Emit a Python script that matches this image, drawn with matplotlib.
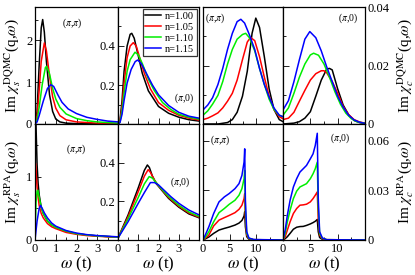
import matplotlib
matplotlib.use("Agg")
import matplotlib.pyplot as plt
from matplotlib.ticker import MultipleLocator, NullFormatter

plt.rcParams["font.family"] = ["Liberation Serif", "DejaVu Serif"]
plt.rcParams["mathtext.fontset"] = "stix"

labels = ["n=1.00", "n=1.05", "n=1.10", "n=1.15"]
colors = ["#000000", "#ff0000", "#00ee00", "#0000ff"]

# --- DQMC spin, (pi,pi)
s_pp_x = [
    [0, 0.1, 0.2, 0.3, 0.37, 0.45, 0.55, 0.7, 0.85, 1.0, 1.2, 1.5, 2, 4],
    [0, 0.1, 0.2, 0.3, 0.45, 0.55, 0.7, 0.85, 1.0, 1.2, 1.5, 2, 3, 4],
    [0, 0.1, 0.2, 0.35, 0.5, 0.56, 0.7, 0.85, 1.0, 1.2, 1.5, 2, 2.5, 3, 4],
    [0, 0.1, 0.2, 0.4, 0.6, 0.76, 0.9, 1.1, 1.3, 1.6, 2.0, 2.5, 3, 3.5, 4],
]
s_pp_y = [
    [0, 0.3, 1.4, 2.3, 2.5, 2.2, 1.5, 0.7, 0.3, 0.12, 0.05, 0.02, 0.01, 0],
    [0, 0.2, 0.8, 1.5, 1.94, 1.75, 1.15, 0.65, 0.38, 0.2, 0.1, 0.05, 0.02, 0.01],
    [0, 0.1, 0.4, 0.95, 1.35, 1.38, 1.2, 0.85, 0.6, 0.4, 0.24, 0.13, 0.08, 0.05, 0.02],
    [0, 0.05, 0.2, 0.55, 0.85, 0.94, 0.9, 0.7, 0.52, 0.36, 0.25, 0.16, 0.11, 0.07, 0.05],
]

# --- DQMC spin, (pi,0)
s_p0_x = [
    [0, 0.1, 0.2, 0.3, 0.45, 0.6, 0.68, 0.8, 1.0, 1.2, 1.5, 2.0, 2.5, 3, 3.5, 4],
    [0, 0.1, 0.2, 0.3, 0.45, 0.6, 0.755, 0.9, 1.1, 1.3, 1.6, 2.0, 2.5, 3, 3.5, 4],
    [0, 0.1, 0.2, 0.3, 0.45, 0.6, 0.84, 1.0, 1.2, 1.5, 1.8, 2.2, 2.6, 3, 3.5, 4],
    [0, 0.1, 0.2, 0.3, 0.45, 0.65, 0.85, 0.97, 1.15, 1.4, 1.7, 2.0, 2.5, 3, 3.5, 4],
]
s_p0_y = [
    [0, 0.02, 0.12, 0.27, 0.40, 0.46, 0.465, 0.44, 0.35, 0.26, 0.17, 0.09, 0.055, 0.035, 0.022, 0.015],
    [0, 0.015, 0.09, 0.21, 0.34, 0.40, 0.417, 0.40, 0.33, 0.26, 0.18, 0.11, 0.07, 0.045, 0.03, 0.02],
    [0, 0.01, 0.07, 0.16, 0.27, 0.33, 0.368, 0.355, 0.31, 0.23, 0.17, 0.11, 0.075, 0.05, 0.035, 0.025],
    [0, 0.008, 0.05, 0.12, 0.21, 0.28, 0.32, 0.328, 0.31, 0.26, 0.2, 0.15, 0.095, 0.06, 0.04, 0.03],
]

# --- DQMC charge, (pi,pi)
c_pp_x = [
    [0, 2.8, 4.6, 5.5, 6.4, 7.4, 8.3, 9.2, 9.9, 10.6, 11.5, 12.4, 13.3, 14.3, 15],
    [0, 0.9, 1.8, 2.8, 3.7, 4.6, 5.5, 6.4, 7.4, 8.3, 8.9, 9.7, 10.6, 11.5, 12.4, 13.3, 14.3, 15],
    [0, 0.9, 1.8, 2.8, 3.7, 4.6, 5.5, 6.4, 7.4, 8.0, 8.7, 9.7, 10.6, 11.5, 12.4, 13.3, 14.3, 15],
    [0, 0.9, 1.8, 2.8, 3.7, 4.6, 5.5, 6.4, 7.1, 7.8, 8.7, 9.7, 10.6, 11.5, 12.4, 13.3, 14.3, 15],
]
c_pp_y = [
    [0, 0, 0.0005, 0.0015, 0.004, 0.0095, 0.018, 0.031, 0.0362, 0.033, 0.023, 0.012, 0.005, 0.0015, 0.0008],
    [0.0015, 0.002, 0.0028, 0.0038, 0.0055, 0.0078, 0.0105, 0.015, 0.022, 0.028, 0.0296, 0.0285, 0.023,
     0.016, 0.0095, 0.005, 0.0025, 0.0018],
    [0.003, 0.0045, 0.0068, 0.0098, 0.0145, 0.0205, 0.0255, 0.029, 0.0306, 0.031, 0.0295, 0.025, 0.019,
     0.0135, 0.0085, 0.005, 0.003, 0.0025],
    [0.0048, 0.0065, 0.009, 0.0135, 0.019, 0.0255, 0.031, 0.035, 0.0358, 0.0345, 0.0305, 0.0255, 0.019,
     0.0135, 0.0092, 0.0055, 0.003, 0.0025],
]

# --- DQMC charge, (pi,0)
c_p0_x = [
    [0, 2, 3, 4, 5, 6, 7, 8, 8.5, 9, 10, 11, 12, 13, 14, 15],
    [0, 1, 2, 3, 4, 5, 6, 7, 7.5, 8, 9, 10, 11, 12, 13, 14, 15],
    [0, 1, 2, 3, 4, 5, 5.6, 6.5, 7.5, 8.5, 9.5, 10.5, 11.5, 12.5, 13.5, 15],
    [0, 1, 2, 3, 4, 4.9, 6, 7, 8, 9, 10, 11, 12, 13, 14, 15],
]
c_p0_y = [
    [0, 0.0003, 0.0008, 0.002, 0.0042, 0.0095, 0.015, 0.0188, 0.019, 0.0185, 0.012, 0.0065, 0.0032,
     0.0012, 0.0005, 0.0002],
    [0.0015, 0.002, 0.004, 0.0078, 0.0115, 0.015, 0.0172, 0.0182, 0.0182, 0.0175, 0.0145, 0.0105, 0.006,
     0.0032, 0.0015, 0.0007, 0.0003],
    [0.003, 0.0055, 0.0105, 0.016, 0.0205, 0.0236, 0.0242, 0.0235, 0.0205, 0.016, 0.011, 0.0068, 0.0037,
     0.0018, 0.0008, 0.0002],
    [0.0048, 0.008, 0.0145, 0.022, 0.029, 0.0316, 0.0295, 0.025, 0.0195, 0.0145, 0.0095, 0.0058, 0.003,
     0.0014, 0.0006, 0.0002],
]

# --- RPA spin, (pi,pi)
rs_pp_x = [
    [0, 0.02, 0.05, 0.1, 0.15, 0.2, 0.3, 0.4, 0.6, 0.8, 1.0, 1.5, 2, 2.5, 3, 3.5, 4],
    [0, 0.02, 0.05, 0.1, 0.15, 0.2, 0.3, 0.4, 0.6, 0.8, 1.0, 1.5, 2, 2.5, 3, 3.5, 4],
    [0, 0.05, 0.1, 0.13, 0.2, 0.3, 0.4, 0.6, 0.8, 1.0, 1.5, 2, 2.5, 3, 3.5, 4],
    [0, 0.1, 0.2, 0.27, 0.35, 0.45, 0.6, 0.8, 1.0, 1.5, 2, 2.5, 3, 3.5, 4],
]
rs_pp_y = [
    [0, 3.0, 1.8, 1.2, 0.9, 0.72, 0.52, 0.42, 0.3, 0.24, 0.2, 0.14, 0.1, 0.08, 0.065, 0.055, 0.045],
    [0, 1.22, 1.1, 0.85, 0.68, 0.55, 0.42, 0.35, 0.26, 0.21, 0.18, 0.12, 0.09, 0.07, 0.06, 0.05, 0.045],
    [0, 0.6, 0.77, 0.79, 0.68, 0.52, 0.42, 0.3, 0.24, 0.2, 0.14, 0.1, 0.08, 0.065, 0.055, 0.047],
    [0, 0.3, 0.5, 0.55, 0.5, 0.43, 0.35, 0.27, 0.22, 0.15, 0.11, 0.085, 0.07, 0.06, 0.05],
]

# --- RPA spin, (pi,0)
rs_p0_x = [
    [0, 0.5, 1.0, 1.3, 1.45, 1.55, 1.7, 1.9, 2.1, 2.5, 3.0, 3.5, 4],
    [0, 0.5, 1.0, 1.3, 1.49, 1.6, 1.8, 2.0, 2.5, 3.0, 3.5, 4],
    [0, 0.5, 1.0, 1.3, 1.54, 1.7, 1.9, 2.1, 2.5, 3.0, 3.5, 4],
    [0, 0.5, 1.0, 1.3, 1.6, 1.8, 2.0, 2.3, 2.6, 3.0, 3.5, 4],
]
rs_p0_y = [
    [0.01, 0.13, 0.27, 0.36, 0.388, 0.375, 0.33, 0.29, 0.265, 0.215, 0.17, 0.135, 0.115],
    [0.01, 0.12, 0.25, 0.33, 0.364, 0.35, 0.31, 0.28, 0.22, 0.175, 0.14, 0.118],
    [0.01, 0.11, 0.22, 0.29, 0.328, 0.32, 0.295, 0.27, 0.225, 0.18, 0.145, 0.122],
    [0.01, 0.095, 0.19, 0.245, 0.297, 0.297, 0.285, 0.255, 0.225, 0.19, 0.155, 0.13],
]

# --- RPA charge, (pi,pi)
rc_pp_x = [0, 0.5, 1.1, 2, 3, 4, 4.9, 6, 6.75, 7.3, 7.7, 7.82, 7.95, 8.2, 8.6, 9.5, 15]
rc_pp_y = [
    [0, 0.0008, 0.0018, 0.004, 0.006, 0.007, 0.0078, 0.009, 0.0102, 0.0118, 0.0145, 0.017, 0.008, 0.002,
     0.0005, 0.0001, 0],
    [0, 0.0012, 0.003, 0.0085, 0.012, 0.0135, 0.0148, 0.0165, 0.0185, 0.021, 0.025, 0.028, 0.012, 0.003,
     0.0008, 0.0002, 0],
    [0, 0.002, 0.005, 0.011, 0.0165, 0.019, 0.0215, 0.024, 0.027, 0.031, 0.037, 0.042, 0.018, 0.004,
     0.001, 0.0002, 0],
    [0, 0.0035, 0.008, 0.016, 0.023, 0.026, 0.028, 0.031, 0.034, 0.039, 0.047, 0.055, 0.024, 0.005,
     0.0012, 0.0003, 0],
]

# --- RPA charge, (pi,0)
rc_p0_x = [0, 0.4, 0.8, 1.3, 1.9, 2.5, 3.1, 3.7, 4.3, 5.0, 5.5, 5.9, 6.27, 6.45, 6.7, 7.2, 8, 15]
rc_p0_y = [
    [0, 0.0008, 0.002, 0.004, 0.0065, 0.0077, 0.0081, 0.0082, 0.0088, 0.0097, 0.0105, 0.0113, 0.0124,
     0.005, 0.0015, 0.0004, 0.0001, 0],
    [0, 0.002, 0.006, 0.011, 0.016, 0.019, 0.021, 0.0212, 0.0216, 0.023, 0.025, 0.027, 0.029, 0.012,
     0.003, 0.0008, 0.0002, 0],
    [0, 0.004, 0.011, 0.018, 0.025, 0.0295, 0.032, 0.033, 0.034, 0.037, 0.04, 0.043, 0.047, 0.019, 0.004,
     0.001, 0.0002, 0],
    [0, 0.006, 0.015, 0.024, 0.032, 0.037, 0.041, 0.043, 0.045, 0.049, 0.052, 0.057, 0.0644, 0.025,
     0.005, 0.0012, 0.0002, 0],
]


def style_axes(ax, xmaj, xmin, ymaj, ymin):
    ax.xaxis.set_major_locator(MultipleLocator(xmaj))
    ax.xaxis.set_minor_locator(MultipleLocator(xmin))
    ax.yaxis.set_major_locator(MultipleLocator(ymaj))
    ax.yaxis.set_minor_locator(MultipleLocator(ymin))
    ax.tick_params(which="both", direction="in", top=False, right=False, labelsize=9, pad=2)
    ax.tick_params(which="major", length=4, width=0.6)
    ax.tick_params(which="minor", length=2, width=0.6)
    for sp in ax.spines.values():
        sp.set_linewidth(0.9)


fig = plt.figure(figsize=(4.15, 2.75), dpi=100)
W, H = 415.0, 275.0
cols = [(35, 83), (118, 81), (203, 80), (283, 82)]
rows = [(7, 117), (124, 116)]
axes = {}
for r, (top, h) in enumerate(rows):
    for c, (left, w) in enumerate(cols):
        axes[(r, c)] = fig.add_axes([left / W, 1 - (top + h) / H, w / W, h / H])

panels = [
    ((0, 0), s_pp_x, s_pp_y, (0, 4), (0, 2.8), (1, 0.5, 1, 0.5)),
    ((0, 1), s_p0_x, s_p0_y, (0, 4), (0, 0.6), (1, 0.5, 0.2, 0.1)),
    ((0, 2), c_pp_x, c_pp_y, (0, 15), (0, 0.04), (5, 2.5, 0.02, 0.01)),
    ((0, 3), c_p0_x, c_p0_y, (0, 15), (0, 0.04), (5, 2.5, 0.02, 0.01)),
    ((1, 0), rs_pp_x, rs_pp_y, (0, 4), (0, 1.84), (1, 0.5, 1, 0.5)),
    ((1, 1), rs_p0_x, rs_p0_y, (0, 4), (0, 0.6), (1, 0.5, 0.2, 0.1)),
    ((1, 2), [rc_pp_x] * 4, rc_pp_y, (0, 15), (0, 0.07), (5, 2.5, 0.03, 0.015)),
    ((1, 3), [rc_p0_x] * 4, rc_p0_y, (0, 15), (0, 0.07), (5, 2.5, 0.03, 0.015)),
]

for key, xs, ys, xl, yl, tk in panels:
    ax = axes[key]
    for i in range(4):
        ax.plot(xs[i], ys[i], color=colors[i], lw=1.1, label=labels[i])
    ax.set_xlim(*xl)
    ax.set_ylim(*yl)
    style_axes(ax, *tk)

# tick labels
for c in range(4):
    axes[(0, c)].xaxis.set_major_formatter(NullFormatter())
for c in (0, 1):
    axes[(1, c)].set_xticks([0, 1, 2, 3])
for c in (2, 3):
    axes[(1, c)].set_xticks([0, 5, 10])
for c in range(4):
    axes[(1, c)].set_xlabel(r"$\omega$ (t)", fontsize=12, labelpad=0)

axes[(0, 0)].set_yticks([0, 1, 2])
axes[(1, 0)].set_yticks([0, 1])
axes[(0, 1)].set_yticks([0.2, 0.4])
axes[(1, 1)].set_yticks([0.2, 0.4])
for r in (0, 1):
    axes[(r, 2)].yaxis.set_major_formatter(NullFormatter())
axes[(0, 3)].set_yticks([0, 0.02, 0.04])
axes[(0, 3)].set_yticklabels(["0", "0.02", "0.04"])
axes[(1, 3)].set_yticks([0, 0.03, 0.06])
axes[(1, 3)].set_yticklabels(["0", "0.03", "0.06"])
for r in (0, 1):
    axes[(r, 3)].tick_params(which="both", labelleft=False, labelright=True)

axes[(0, 0)].set_ylabel(r"Im $\chi_s^{\rm DQMC}$(q,$\omega$)", fontsize=11, labelpad=2)
axes[(1, 0)].set_ylabel(r"Im $\chi_s^{\rm RPA}$(q,$\omega$)", fontsize=11, labelpad=2)
axes[(0, 3)].yaxis.set_label_position("right")
axes[(1, 3)].yaxis.set_label_position("right")
axes[(0, 3)].set_ylabel(r"Im $\chi_c^{\rm DQMC}$(q,$\omega$)", fontsize=11, labelpad=4)
axes[(1, 3)].set_ylabel(r"Im $\chi_c^{\rm RPA}$(q,$\omega$)", fontsize=11, labelpad=4)

# momentum labels
notes = [
    ((0, 0), 0.45, 0.86, r"($\pi$,$\pi$)"),
    ((0, 1), 0.82, 0.22, r"($\pi$,0)"),
    ((0, 2), 0.15, 0.9, r"($\pi$,$\pi$)"),
    ((0, 3), 0.8, 0.9, r"($\pi$,0)"),
    ((1, 0), 0.5, 0.78, r"($\pi$,$\pi$)"),
    ((1, 1), 0.77, 0.5, r"($\pi$,0)"),
    ((1, 2), 0.22, 0.86, r"($\pi$,$\pi$)"),
    ((1, 3), 0.7, 0.88, r"($\pi$,0)"),
]
for key, tx, ty, s in notes:
    axes[key].text(tx, ty, s, transform=axes[key].transAxes, fontsize=7, ha="center", va="center")

leg = axes[(0, 1)].legend(loc="upper right", fontsize=7.5, frameon=True, fancybox=False,
                          edgecolor="black", handlelength=1.5, handletextpad=0.4,
                          labelspacing=0.15, borderpad=0.25, borderaxespad=0.2)
leg.get_frame().set_linewidth(0.9)

fig.savefig("out.png", dpi=100)
